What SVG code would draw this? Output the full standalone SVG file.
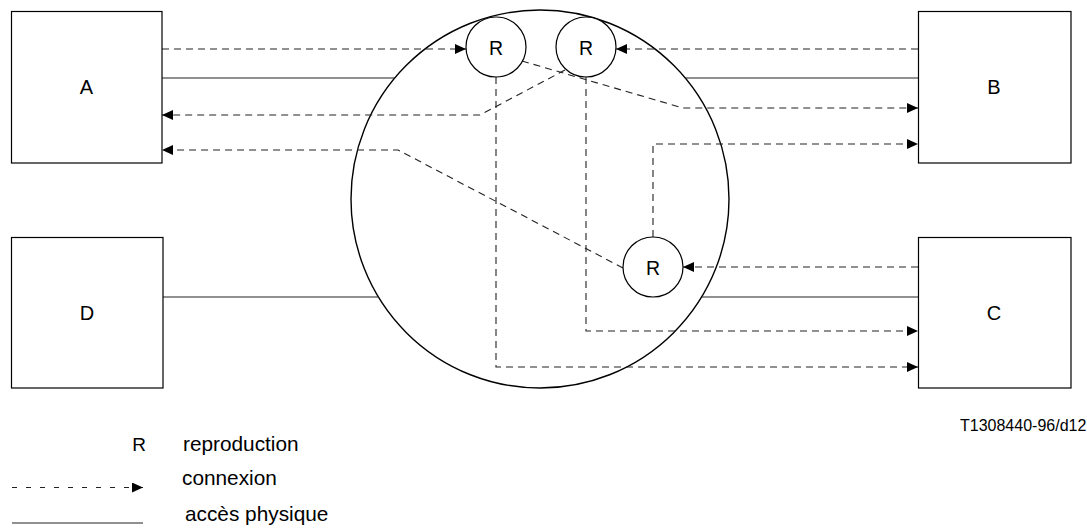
<svg xmlns="http://www.w3.org/2000/svg" width="1087" height="529" viewBox="0 0 1087 529">
<style>
.box{fill:#fff;stroke:#000;stroke-width:1.2}
.rc{fill:#fff;stroke:#000;stroke-width:1.2}
.big{fill:none;stroke:#000;stroke-width:1.4}
.acc{fill:none;stroke:#222;stroke-width:1.2}
.con{fill:none;stroke:#222;stroke-width:1.1;stroke-dasharray:7 5}
.lbl{font-family:"Liberation Sans",Arial,sans-serif;font-size:20px;fill:#000;text-anchor:middle}
.rl{font-family:"Liberation Sans",Arial,sans-serif;font-size:19.5px;fill:#000;text-anchor:middle}
.leg{font-family:"Liberation Sans",Arial,sans-serif;font-size:20.8px;fill:#000}
.ref{font-family:"Liberation Sans",Arial,sans-serif;font-size:16px;fill:#000}
</style>
<defs>
<marker id="ah" viewBox="0 0 11 10" refX="11" refY="5" markerWidth="11" markerHeight="10" orient="auto" markerUnits="userSpaceOnUse"><path d="M0,0 L11,5 L0,10 z" fill="#000"/></marker>
</defs>
<circle id="network" class="big" cx="540" cy="199" r="189"/>
<g id="access">
<path class="acc" d="M162,78 H395"/>
<path class="acc" d="M685,78 H918"/>
<path class="acc" d="M163,297 H379"/>
<path class="acc" d="M702,297 H918"/>
</g>
<g id="connectors">
<path class="con" d="M162,49 H466" marker-end="url(#ah)"/>
<path class="con" d="M918,49 H616" marker-end="url(#ah)"/>
<path class="con" d="M522,61 L683,108 H918" marker-end="url(#ah)"/>
<path class="con" d="M565,70 L480,115 H162" marker-end="url(#ah)"/>
<path class="con" d="M623,268 L398,150 H162" marker-end="url(#ah)"/>
<path class="con" d="M653,237 V144 H918" marker-end="url(#ah)"/>
<path class="con" d="M918,267 H683" marker-end="url(#ah)"/>
<path class="con" d="M586,77 V331 H918" marker-end="url(#ah)"/>
<path class="con" d="M496,77 V367 H918" marker-end="url(#ah)"/>
</g>
<g id="A"><rect class="box" x="11.5" y="11.5" width="150.5" height="151.5"/><text class="lbl" x="86.5" y="93.5">A</text></g>
<g id="B"><rect class="box" x="918.5" y="11.5" width="152.5" height="151.5"/><text class="lbl" x="994" y="93.5">B</text></g>
<g id="C"><rect class="box" x="918.5" y="237.5" width="152.5" height="150.5"/><text class="lbl" x="994" y="320">C</text></g>
<g id="D"><rect class="box" x="11.5" y="237.5" width="151.5" height="150.5"/><text class="lbl" x="87" y="320">D</text></g>
<g id="R1"><circle class="rc" cx="496" cy="47" r="30"/><text class="rl" x="496" y="54.5">R</text></g>
<g id="R2"><circle class="rc" cx="586" cy="47" r="30"/><text class="rl" x="586" y="54.5">R</text></g>
<g id="R3"><circle class="rc" cx="653" cy="267" r="30"/><text class="rl" x="653" y="274.5">R</text></g>
<text class="ref" x="960" y="431">T1308440-96/d12</text>
<g id="legend">
<text class="lbl" x="139" y="451" style="font-size:19px">R</text>
<text class="leg" x="183" y="450.7">reproduction</text>
<path class="con" d="M12,487.5 H143" style="stroke-dasharray:5 9" marker-end="url(#ah)"/>
<text class="leg" x="182" y="485">connexion</text>
<path class="acc" d="M12,523 H143"/>
<text class="leg" x="185" y="521">accès physique</text>
</g>
</svg>
